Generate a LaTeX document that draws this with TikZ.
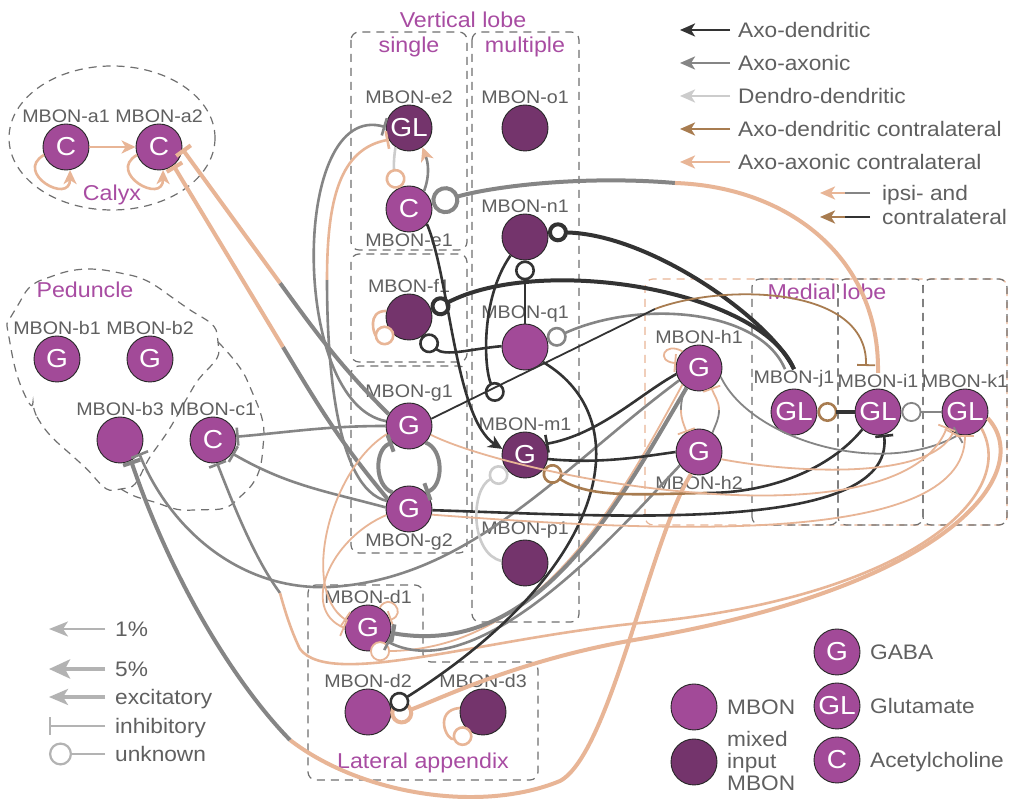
\documentclass[tikz,border=0pt]{standalone}
\usepackage{fontspec}
\setmainfont{Liberation Sans}[FakeStretch=1.08]
\usetikzlibrary{positioning,calc,arrows.meta}

\definecolor{mbon}{HTML}{A24A98}
\definecolor{mixed}{HTML}{74346C}
\definecolor{txtgrey}{HTML}{606060}
\definecolor{lobe}{HTML}{A84CA2}
\definecolor{boxgrey}{HTML}{707070}
\definecolor{adark}{HTML}{333333}
\definecolor{agrey}{HTML}{858585}
\definecolor{dlight}{HTML}{CCCCCC}
\definecolor{abrown}{HTML}{A87C50}
\definecolor{apeach}{HTML}{E8B596}
\definecolor{leggrey}{HTML}{B3B3B3}

\tikzset{
 mb/.style={circle,draw=black!85,line width=0.9pt,fill=mbon,minimum size=46pt,inner sep=0pt,text=white,font=\fontsize{26}{26}\selectfont},
 mx/.style={mb,fill=mixed},
 lab/.style={text=txtgrey,font=\fontsize{18.2}{20}\selectfont,inner sep=1pt},
 leg/.style={text=txtgrey,font=\fontsize{21}{22}\selectfont,inner sep=0pt,text height=15pt,text depth=0pt},
 lobetxt/.style={text=lobe,font=\fontsize{21.5}{23}\selectfont},
 box/.style={boxgrey,line width=1.2pt,dash pattern=on 8pt off 6pt,rounded corners=8pt},
 lthin/.style={line width=1.8pt},
 lmed/.style={line width=2.6pt},
 lthick/.style={line width=4pt},
 ad/.style={adark}, aa/.style={agrey}, dd/.style={dlight}, adc/.style={abrown}, aac/.style={apeach},
 exc/.style={-{Stealth[length=14pt,width=13pt,inset=4pt]}},
 inh/.style={-{Bar[width=18pt]}},
 unk/.style={-{Circle[length=20pt,fill=white]}}
}

\begin{document}
\begin{tikzpicture}[x=1pt,y=1pt]
\useasboundingbox (0,0) rectangle (1010,799);
\fill[white] (0,0) rectangle (1010,799);
%\draw[help lines,step=50] (0,0) grid (1010,799);
\draw[box] (112,661) ellipse [x radius=103pt,y radius=72pt];
\draw[box] plot[smooth cycle,tension=0.8] coordinates {(10,456) (33,389) (77,339) (121,310) (157,352) (190,406) (218,457) (180,496) (120,526) (50,522) (15,489)};
\draw[box] plot[smooth,tension=0.8] coordinates {(218,457) (250,412) (263,352) (240,302) (195,289) (147,299) (121,310)};
\draw[box] (351,767) rectangle (467,549);
\draw[box] (351,545) rectangle (467,437);
\draw[box] (351,433) rectangle (467,246);
\draw[box] (472,767) rectangle (579,177);
\draw[box] (308,214) -- (423,214) -- (423,137) -- (538,137) -- (538,19) -- (308,19) -- cycle;
\draw[box,apeach] (645,274) rectangle (1007,520);
\foreach \xa/\xb in {752/838,838/923,923/1007}
\draw[box] (\xa,274) rectangle (\xb,520);

\node[lobetxt] (calyx) at (112,604) {Calyx};
\node[lobetxt] (ped) at (85,509) {Peduncle};
\node[lobetxt] (vert) at (463,779) {Vertical lobe};
\node[lobetxt] (single) at (409,752) {single};
\node[lobetxt] (multi) at (525,752) {multiple};
\node[lobetxt] (medial) at (827,507) {Medial lobe};
\node[lobetxt] (lateral) at (423,36) {Lateral appendix};

\node[mb,label={[lab]above:MBON-a1}] (a1) at (66,652) {C};
\node[mb,label={[lab]above:MBON-a2}] (a2) at (159,652) {C};
\node[mb,label={[lab]above:MBON-b1}] (b1) at (57,440) {G};
\node[mb,label={[lab]above:MBON-b2}] (b2) at (150,440) {G};
\node[mb,label={[lab]above:MBON-b3}] (b3) at (120,359) {};
\node[mb,label={[lab]above:MBON-c1}] (c1) at (213,359) {C};
\node[mx,label={[lab]above:MBON-e2}] (e2) at (409,671) {GL};
\node[mb,label={[lab]below:MBON-e1}] (e1) at (409,590) {C};
\node[mx,label={[lab]above:MBON-o1}] (o1) at (525,671) {};
\node[mx,label={[lab]above:MBON-n1}] (n1) at (525,562) {};
\node[mx,label={[lab]above:MBON-f1}] (f1) at (409,482) {};
\node[mb,label={[lab]above:MBON-q1}] (q1) at (525,452) {};
\node[mb,label={[lab]above:MBON-g1}] (g1) at (409,373) {G};
\node[mx,label={[lab,name=m1lab]above:MBON-m1}] (m1) at (525,344) {G};
\node[mb,label={[lab]below:MBON-g2}] (g2) at (409,290) {G};
\node[mx,label={[lab]above:MBON-p1}] (p1) at (525,236) {};
\node[mb,label={[lab]above:MBON-h1}] (h1) at (699,431) {G};
\node[mb,label={[lab]below:MBON-h2}] (h2) at (699,347) {G};
\node[mb,label={[lab,name=j1lab]above:MBON-j1}] (j1) at (794,387) {GL};
\node[mb,label={[lab,name=i1lab]above:MBON-i1}] (i1) at (878,387) {GL};
\node[mb,label={[lab]above:MBON-k1}] (k1) at (965,387) {GL};
\node[mb,label={[lab]above:MBON-d1}] (d1) at (368,171) {G};
\node[mb,label={[lab]above:MBON-d2}] (d2) at (368,87) {};
\node[mx,label={[lab]above:MBON-d3}] (d3) at (483,87) {};

\coordinate (sw1) at (280,516);
\coordinate (sw2) at (283,452);
\coordinate (sw3) at (327,519);
\coordinate (sw4) at (675,616);
\coordinate (sw5) at (290,59);
\coordinate (sw6) at (655,490);
\coordinate (sw7) at (707,306);
\coordinate (sw8) at (681,389);
\coordinate (sw9) at (719,389);
\coordinate (sw10) at (280,206);
\coordinate (m1in) at (499,398);
\coordinate (i1t) at (866,433);

\draw[aac,lmed,exc] (a1) -- (a2);
\draw[aac,lmed,exc] (a1.200) to[out=210,in=-90,looseness=3] (a1.-80);
\draw[aac,lmed,exc] (a2.200) to[out=210,in=-90,looseness=3] (a2.-80);
\draw[aa,lthick] (g1.150) to[out=135,in=-54] (sw1);
\draw[aac,lthick,inh] (sw1) -- (a2.-5);
\draw[aa,lthick] (g2.155) to[out=130,in=-59] (sw2);
\draw[aac,lthick,inh] (sw2) -- (a2.-52);

\draw[aa,lmed,inh] (g1.168) .. controls (290,395) and (290,700) .. (e2.178);
\draw[aa,lmed] (g2.160) .. controls (335,310) and (327,440) .. (sw3);
\draw[aac,lmed,inh] (sw3) .. controls (327,600) and (340,650) .. (e2.210);
\draw[aa,lmed,-{Stealth[length=14pt,width=13pt,inset=4pt,color=apeach]}] (e1.50) to[out=70,in=-70] (e2.-55);
\draw[dd,lmed,-{Circle[length=20pt,color=apeach,fill=white]}] (e2.235) to[out=-100,in=100] (e1.120);
\draw[aa,lthick,-{Circle[length=28pt,fill=white]}] (sw4) .. controls (580,624) and (490,612) .. (e1.12);
\draw[aac,lthick] (i1lab.north) .. controls (880,540) and (790,612) .. (sw4);

\draw[aa,lthick,inh] (g2.135) to[out=160,in=200] (g1.225);
\draw[aa,lthick,inh] (g1.-45) to[out=-20,in=20] (g2.45);
\draw[aa,lmed,inh] (g1.180) to[out=180,in=5] (c1.8);
\draw[aa,lmed,inh] (g2.176) to[out=165,in=-30] (c1.-35);

\draw[aac,lthick] (h2.-110) .. controls (650,260) and (610,45) .. (560,18) .. controls (480,-15) and (360,5) .. (sw5);
\draw[aa,lthick,inh] (sw5) .. controls (240,110) and (175,210) .. (b3.-62);
\draw[aa,lmed,inh] (h1.212) .. controls (560,330) and (470,220) .. (330,212) .. controls (240,208) and (170,270) .. (b3.-35);
\draw[aa,lmed,inh] (sw10) .. controls (255,240) and (235,290) .. (c1.-80);
\draw[aac,lmed] (k1.-45) .. controls (1020,300) and (900,200) .. (640,176) .. controls (480,160) and (330,110) .. (300,150) .. controls (290,170) and (283,195) .. (sw10);
\draw[aac,lthick,-{Circle[length=23pt,fill=white]}] (k1.-15) .. controls (1035,330) and (960,215) .. (640,160) .. controls (520,140) and (440,100) .. (d2.-12);
\draw[aac,lthin,unk] (h1.225) .. controls (620,300) and (540,150) .. (d1.-85);
\draw[aac,lthin,inh] (g1.200) .. controls (330,330) and (300,210) .. (d1.160);
\draw[aac,lthin,inh] (g2.195) .. controls (330,260) and (300,190) .. (d1.180);
\draw[aac,lthin,inh] (d1.60) to[out=60,in=20,looseness=3] (d1.20);
\draw[aa,lthick,inh] (h1.238) .. controls (620,300) and (540,140) .. (d1.-12);
\draw[aa,lmed,inh] (h2.215) .. controls (620,270) and (480,110) .. (d1.-35);

\draw[ad,lmed,unk] (q1) -- (n1);
\draw[ad,lthick,unk] (j1lab.north) .. controls (770,480) and (650,565) .. (n1.12);
\draw[ad,lthick,unk] (j1lab.north) .. controls (760,510) and (540,545) .. (f1.15);
\draw[aa,lmed,unk] ($(j1lab.north)+(-9,0)$) .. controls (760,490) and (640,500) .. (q1.15);
\draw[ad,lmed,unk] (q1.178) to[out=185,in=-40] (f1.-58);
\draw[ad,lmed,unk] (n1.232) .. controls (480,500) and (484,430) .. (m1in);
\draw[ad,lmed,exc] (e1.-40) .. controls (450,520) and (455,380) .. (m1.165);
\draw[ad,lmed,unk] (q1.-40) .. controls (640,380) and (610,230) .. (d2.12);
\draw[ad,lthin] (g1.18) .. controls (506,417) and (580,453) .. (sw6);
\draw[adc,lthin,inh] (sw6) .. controls (720,515) and (868,515) .. (i1t);
\draw[ad,lmed,inh] (h1.195) .. controls (640,405) and (600,365) .. (m1.28);
\draw[ad,lmed] (m1.-10) .. controls (600,335) and (640,342) .. (h2.180);
\draw[ad,lmed] (i1.228) .. controls (830,330) and (770,306) .. (sw7);
\draw[adc,lmed,unk] (sw7) .. controls (640,305) and (590,300) .. (m1.-35);
\draw[ad,lmed,inh] (g2.-3) .. controls (600,284) and (895,262) .. (i1.-75);
\draw[dd,lmed,unk] (p1.175) .. controls (470,245) and (470,310) .. (m1.-138);

\draw[adc,lmed,unk] (i1) -- (j1);
\draw[ad,lthick] (i1.west) -- ($(i1.west)!0.5!(j1.east)$);
\draw[aa,lthin,unk] (k1) -- (i1);
\draw[aa,lthin] (h1.235) to[out=-110,in=90] (sw8);
\draw[aac,lthin,inh] (sw8) to[out=-90,in=110] (h2.122);
\draw[aa,lthin] (h2.55) to[out=70,in=-90] (sw9);
\draw[aac,lthin,inh] (sw9) to[out=90,in=-70] (h1.-58);
\draw[aac,lthin,inh] (h1.135) to[out=150,in=175,looseness=4] (h1.168);
\draw[aa,lthin,inh] (h1.-22) .. controls (750,360) and (880,320) .. (k1.-105);
\draw[aac,lthin,inh] (g1.-22) .. controls (520,320) and (900,250) .. (k1.-140);
\draw[aac,lthin,inh] (g2.-14) .. controls (650,268) and (965,250) .. (k1.-90);
\draw[aac,lthin,inh] (h2.-18) .. controls (800,325) and (930,320) .. (k1.-120);
\draw[aac,lmed,unk] (f1.165) to[out=180,in=180,looseness=2] (f1.232);
\draw[aac,lmed,unk] (d3.170) to[out=185,in=200,looseness=2.5] (d3.242);

\foreach \c/\t [count=\i] in {adark/Axo-dendritic,agrey/Axo-axonic,dlight/Dendro-dendritic,abrown/Axo-dendritic contralateral,apeach/Axo-axonic contralateral}{
 \node[leg,anchor=west] (key\i) at (738,{802-33*\i}) {\t};
 \draw[\c,line width=2.7pt,-{Stealth[length=15pt,width=13pt,inset=4pt]}] ($(key\i.west)+(-8,0)$) -- ($(key\i.west)+(-58,0)$);
}
\node[leg,anchor=west] (ipsi) at (882,606) {ipsi- and};
\node[leg,anchor=west] (contra) at (882,582) {contralateral};
\draw[agrey,line width=2.7pt] ($(ipsi.west)+(-12,0)$) -- ($(ipsi.west)+(-37,0)$);
\draw[apeach,line width=2.7pt,-{Stealth[length=15pt,width=13pt,inset=4pt]}] ($(ipsi.west)+(-37,0)$) -- ($(ipsi.west)+(-62,0)$);
\draw[adark,line width=2.7pt] ($(contra.west)+(-12,0)$) -- ($(contra.west)+(-37,0)$);
\draw[abrown,line width=2.7pt,-{Stealth[length=15pt,width=13pt,inset=4pt]}] ($(contra.west)+(-37,0)$) -- ($(contra.west)+(-62,0)$);

\node[leg,anchor=west] (one) at (115,170) {1\%};
\node[leg,anchor=west] (five) at (115,130) {5\%};
\node[leg,anchor=west] (excl) at (115,102) {excitatory};
\node[leg,anchor=west] (inhl) at (115,73) {inhibitory};
\node[leg,anchor=west] (unkl) at (115,45) {unknown};
\draw[leggrey,line width=2.2pt,-{Stealth[length=19pt,width=15pt,inset=5pt]}] ($(one.west)+(-10,0)$) -- ($(one.west)+(-66,0)$);
\draw[leggrey,line width=4.5pt,-{Stealth[length=21pt,width=19pt,inset=5pt]}] ($(five.west)+(-10,0)$) -- ($(five.west)+(-66,0)$);
\draw[leggrey,line width=3.2pt,-{Stealth[length=19pt,width=16pt,inset=5pt]}] ($(excl.west)+(-10,0)$) -- ($(excl.west)+(-66,0)$);
\draw[leggrey,line width=2.2pt,-{Bar[width=18pt]}] ($(inhl.west)+(-10,0)$) -- ($(inhl.west)+(-66,0)$);
\draw[leggrey,line width=2.2pt,-{Circle[length=23pt,fill=white]}] ($(unkl.west)+(-10,0)$) -- ($(unkl.west)+(-66,0)$);

\node[mb] (kG) at (837,147) {G};
\node[leg,anchor=west] (kGt) at (870,147) {GABA};
\node[mb] (kGL) at (837,93) {GL};
\node[leg,anchor=west] (kGLt) at (870,93) {Glutamate};
\node[mb] (kC) at (837,39) {C};
\node[leg,anchor=west] (kCt) at (870,39) {Acetylcholine};
\node[mb] (kM) at (694,92) {};
\node[leg,anchor=west] (kMt) at (727,92) {MBON};
\node[mx] (kX) at (694,37) {};
\node[text=txtgrey,font=\fontsize{21}{22}\selectfont,anchor=west,align=left,inner sep=0pt] (kXt) at (727,38) {mixed\\input\\MBON};
\end{tikzpicture}
\end{document}
